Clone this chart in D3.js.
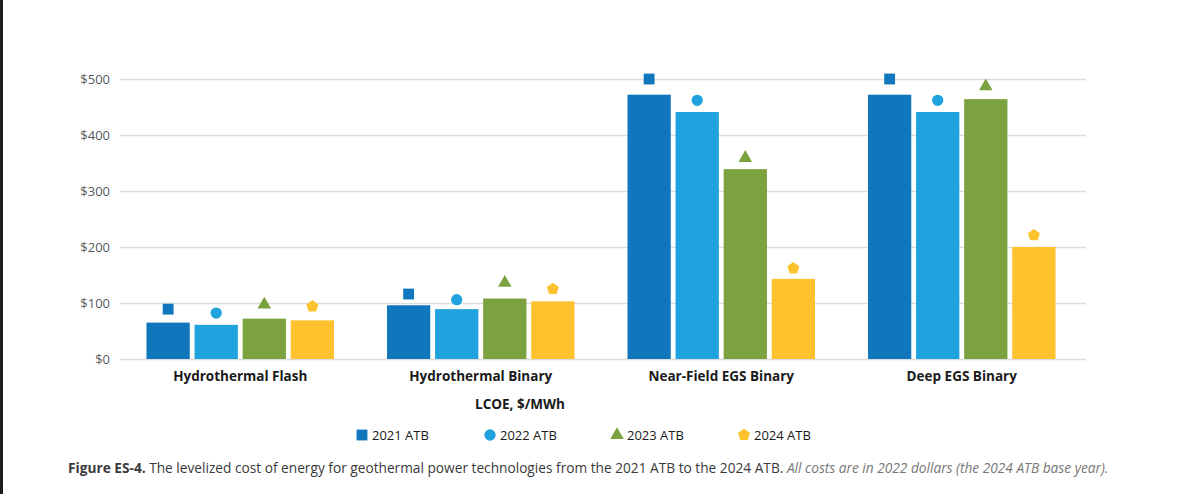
<!DOCTYPE html>
<html>
<head>
<meta charset="utf-8">
<script src="https://cdn.jsdelivr.net/npm/d3@7"></script>
<style>
  body { margin: 0; background: #fff; }
  svg { display: block; font-family: "Open Sans", sans-serif; }
</style>
</head>
<body>
<div id="chart"></div>
<script>
const WIDTH = 1179;
const HEIGHT = 494;

// data
const categories = ['Hydrothermal Flash', 'Hydrothermal Binary', 'Near-Field EGS Binary', 'Deep EGS Binary'];
const series = ['2021 ATB', '2022 ATB', '2023 ATB', '2024 ATB'];
const barValues = [
	[65, 61, 72, 69],      // Hydrothermal Flash
	[96, 89, 108, 103],    // Hydrothermal Binary
	[472, 441, 339, 143],  // Near-Field EGS Binary
	[472, 441, 464, 200]   // Deep EGS Binary
];
const markerValues = [
	[89, 82, 97, 94],
	[116, 106, 136, 125],
	[500, 462, 359, 162],
	[500, 462, 487, 221]
];
const yTicks = [0, 100, 200, 300, 400, 500];
const colors = ['#1177bd', '#1fa2dd', '#7ba23f', '#fdc22d'];
const shapes = [d3.symbolSquare, d3.symbolCircle, d3.symbolTriangle, 'pentagon'];

const margin = { left: 120, right: 97, top: 79, bottom: 135 };

const svg = d3.select('#chart')
	.append('svg')
		.attr('width', WIDTH)
		.attr('height', HEIGHT);

// dark frame edge on the left
svg.append('rect')
	.attr('x', 0).attr('y', 0)
	.attr('width', 3).attr('height', HEIGHT)
	.attr('fill', '#1c1c1c');

const x0 = d3.scaleBand()
	.domain(categories)
	.range([margin.left, WIDTH - margin.right])
	.paddingInner(0)
	.paddingOuter(0);

const x1 = d3.scaleBand()
	.domain(series)
	.range([26.5, x0.bandwidth() - 26.5])
	.paddingInner(0.1);

const y = d3.scaleLinear()
	.domain([0, 500])
	.range([HEIGHT - margin.bottom, margin.top]);

// gridlines + tick labels
const yAxis = svg.append('g')
	.attr('transform', `translate(${margin.left},0)`)
	.call(d3.axisLeft(y)
		.tickValues(yTicks)
		.tickSize(-(WIDTH - margin.left - margin.right + 4))
		.tickPadding(10)
		.tickFormat(d => '$' + d));

yAxis.select('.domain').remove();
yAxis.selectAll('.tick line')
	.attr('stroke', '#dcdcdc')
	.attr('stroke-width', 1.6);
yAxis.selectAll('.tick text')
	.attr('fill', '#5a5a5a')
	.attr('font-size', 13)
	.attr('font-family', '"Open Sans", sans-serif');

// bars
const groups = svg.append('g')
	.selectAll('g')
	.data(categories)
	.join('g')
		.attr('transform', d => `translate(${x0(d)},0)`);

groups.selectAll('rect')
	.data((d, i) => barValues[i].map((v, j) => ({ key: series[j], value: v, j: j })))
	.join('rect')
		.attr('x', d => x1(d.key))
		.attr('y', d => y(d.value))
		.attr('width', x1.bandwidth())
		.attr('height', d => y(0) - y(d.value))
		.attr('fill', d => colors[d.j]);

// pentagon path helper
function pentagon(r) {
	const pts = d3.range(5).map(k => {
		const a = -Math.PI / 2 + k * 2 * Math.PI / 5;
		return [r * Math.cos(a), r * Math.sin(a)];
	});
	return d3.line().curve(d3.curveLinearClosed)(pts);
}

function symbolPath(j, scale) {
	const s = scale || 1;
	if (shapes[j] === 'pentagon') return pentagon(6.3 * s);
	if (shapes[j] === d3.symbolSquare) return d3.symbol(d3.symbolSquare, 118 * s * s)();
	if (shapes[j] === d3.symbolCircle) return d3.symbol(d3.symbolCircle, 100 * s * s)();
	return d3.symbol(d3.symbolTriangle, 80 * s * s)();
}

groups.selectAll('path.marker')
	.data((d, i) => markerValues[i].map((v, j) => ({ key: series[j], value: v, j: j })))
	.join('path')
		.attr('class', 'marker')
		.attr('transform', d => `translate(${x1(d.key) + x1.bandwidth() / 2},${y(d.value)})`)
		.attr('d', d => symbolPath(d.j))
		.attr('fill', d => colors[d.j]);

// category labels
svg.append('g')
	.selectAll('text')
	.data(categories)
	.join('text')
		.attr('x', d => x0(d) + x0.bandwidth() / 2)
		.attr('y', y(0) + 22)
		.attr('text-anchor', 'middle')
		.attr('font-size', 13.5)
		.attr('font-weight', 'bold')
		.attr('fill', '#1a1a1a')
		.text(d => d);

// axis title
svg.append('text')
	.attr('x', 520)
	.attr('y', 409)
	.attr('text-anchor', 'middle')
	.attr('font-size', 13.5)
	.attr('font-weight', 'bold')
	.attr('fill', '#1a1a1a')
	.text('LCOE, $/MWh');

// legend
const legendX = [356, 484, 611, 738];
const legend = svg.append('g')
	.selectAll('g')
	.data(series)
	.join('g')
		.attr('transform', (d, i) => `translate(${legendX[i]},435)`);

legend.append('path')
	.attr('transform', 'translate(6,0)')
	.attr('d', (d, i) => symbolPath(i, 1))
	.attr('fill', (d, i) => colors[i]);

legend.append('text')
	.attr('x', 16)
	.attr('y', 5)
	.attr('font-size', 13)
	.attr('fill', '#1a1a1a')
	.text(d => d);

// caption
const caption = svg.append('text')
	.attr('x', 68)
	.attr('y', 473)
	.attr('font-size', 13.7)
	.attr('fill', '#3a3a3a');

caption.append('tspan')
	.attr('font-weight', 'bold')
	.text('Figure ES-4.');
caption.append('tspan')
	.text(' The levelized cost of energy for geothermal power technologies from the 2021 ATB to the 2024 ATB. ');
caption.append('tspan')
	.attr('font-style', 'italic')
	.attr('fill', '#777')
	.text('All costs are in 2022 dollars (the 2024 ATB base year).');
</script>
</body>
</html>
